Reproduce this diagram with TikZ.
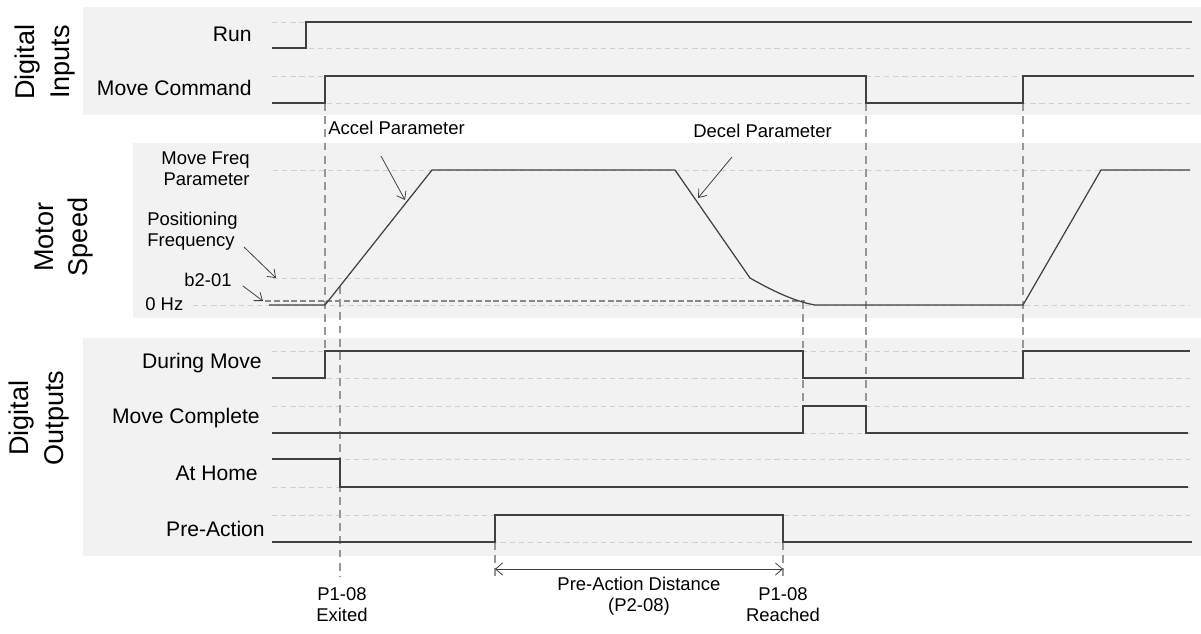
\documentclass[tikz,border=0pt]{standalone}
\usepackage{fontspec}
\setmainfont{Liberation Sans}
\usepackage{tikz}
\usetikzlibrary{arrows.meta,calc}
\usepackage{xcolor}
\definecolor{sigdark}{RGB}{64,64,64}
\definecolor{panelgray}{RGB}{242,242,242}
\definecolor{levelgray}{RGB}{208,208,208}
\definecolor{guidegray}{RGB}{150,150,150}

\begin{document}
\begin{tikzpicture}[x=0.02cm,y=-0.02cm,>=Stealth,
  sig/.style={sigdark,line width=0.7pt},
  level/.style={levelgray,line width=0.5pt,dash pattern=on 3pt off 2.2pt},
  guide/.style={guidegray,line width=0.6pt,dash pattern=on 4.5pt off 3pt},
  note/.style={sigdark,line width=0.45pt,-{Straight Barb[length=4pt,width=6pt]}},
  dim/.style={sigdark,line width=0.45pt,{Straight Barb[length=4pt,width=7pt]}-{Straight Barb[length=4pt,width=7pt]}},
  big/.style={font=\fontsize{12}{14}\selectfont,inner sep=0pt},
  small/.style={font=\fontsize{10.5}{12}\selectfont,inner sep=0pt},
  group/.style={font=\fontsize{15.4}{19.5}\selectfont,inner sep=0pt,rotate=90,align=center}]
  \useasboundingbox (0,0) rectangle (1201,633);
  % panels
  \fill[panelgray] (83,7) rectangle (1201,115);
  \fill[panelgray] (133,143) rectangle (1201,318);
  \fill[panelgray] (83,338) rectangle (1201,556);
  % level lines
  \foreach \y in {22,48,76,103,351,378,406,433,459,487,515,542}
    {\draw[level] (272,\y) -- (1190,\y);}
  \draw[level] (273,170) -- (1190,170);
  \draw[level] (273,278) -- (750,278);
  \draw[level] (193,305) -- (1190,305);
  \draw[guidegray!90!black,line width=0.6pt,dash pattern=on 3.4pt off 1.6pt] (265,301) -- (805,301);
  % guide lines
  \foreach \x/\ya/\yb in {325/103/378,340/286/577,803/301/406,866/103/433,1023/103/351,495/542/577,783/542/577}
    {\draw[guide] (\x,\ya) -- (\x,\yb);}
  % group labels
  \node[group] (gIn) at (45,62) {Digital\\Inputs};
  \node[group] (gSpeed) at (64,237) {Motor\\Speed};
  \node[group] (gOut) at (39,418) {Digital\\Outputs};
  % signal labels
  \foreach \n/\x/\y/\t in {run/252/34/Run,cmd/252/88/Move Command,during/262/363/During Move,
    complete/260/418/Move Complete,home/258/473/At Home,pre/265/529/Pre-Action}
    {\node[big,anchor=east] (\n) at (\x,\y) {\t};}
  % signals
  \draw[sig] (272,48) -| (306,22) -- (1192,22);
  \draw[sig] (272,103) -| (325,76) -| (866,103) -| (1023,76) -- (1194,76);
  \draw[sig] (272,378) -| (325,351) -| (803,378) -| (1023,351) -- (1190,351);
  \draw[sig] (272,433) -| (803,406) -| (866,433) -- (1188,433);
  \draw[sig] (272,459) -| (340,487) -- (1188,487);
  \draw[sig] (272,542) -| (495,515) -| (783,542) -- (1192,542);
  % motor speed
  \draw[sig] (269,305) -- (325,305) -- (432,170) -- (675,170) -- (750,278)
    .. controls (778,294) and (798,302) .. (815,305) -- (1023,305) -- (1101,170) -- (1190,170);
  % speed labels
  \node[small,align=right,anchor=east] (freq) at (250,169) {Move Freq\\Parameter};
  \node[small,align=left,anchor=west] (posfreq) at (147,231) {Positioning\\Frequency};
  \node[small,anchor=east] (b201) at (232,280) {b2-01};
  \node[small,anchor=west] (zero) at (145,304) {0 Hz};
  \node[small,anchor=west] (accel) at (328,128) {Accel Parameter};
  \node[small,anchor=west] (decel) at (693,131) {Decel Parameter};
  \coordinate (accelTip) at (405,200);
  \coordinate (decelTip) at (698,198);
  \coordinate (posTip) at (276,278);
  \coordinate (b2Tip) at (263,301);
  \draw[note] (381,156) -- (accelTip);
  \draw[note] (732,157) -- (decelTip);
  \draw[note] (244,247) -- (posTip);
  \draw[note] (243,286) -- (b2Tip);
  % bottom labels
  \coordinate (paStart) at (495,569);
  \coordinate (paEnd) at (783,569);
  \draw[dim] (paStart) -- (paEnd);
  \node[small,align=center] (padist) at (639,596) {Pre-Action Distance\\(P2-08)};
  \node[small,align=center] (exited) at (342,605) {P1-08\\Exited};
  \node[small,align=center] (reached) at (783,605) {P1-08\\Reached};
\end{tikzpicture}
\end{document}
